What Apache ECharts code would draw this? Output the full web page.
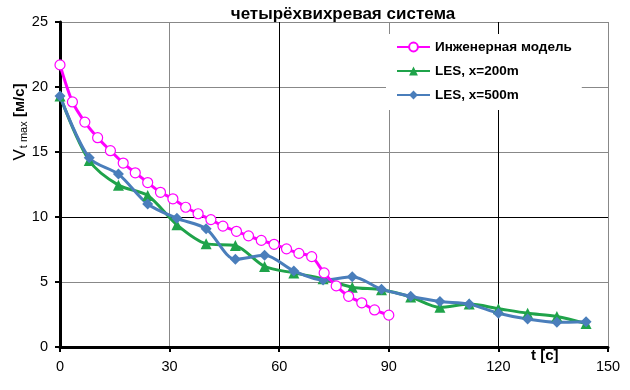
<!DOCTYPE html>
<html>
<head>
<meta charset="utf-8">
<script src="https://cdn.jsdelivr.net/npm/echarts@6/dist/echarts.min.js"></script>
<style>
  html, body { margin: 0; padding: 0; background: #fff; }
  #chart { width: 630px; height: 390px; }
</style>
</head>
<body>
<div id="chart"></div>
<script>
// engineering model, t [c] and Vt max [м/с]
var tModel = [0, 3.4, 6.8, 10.3, 13.8, 17.3, 20.6, 24.0, 27.5, 30.9, 34.4, 37.8, 41.3, 44.6,
  48.3, 51.6, 55.1, 58.6, 62.0, 65.4, 68.9, 72.3, 75.6, 79.0, 82.6, 86.1, 90];
var vModel = [21.7, 18.85, 17.3, 16.1, 15.1, 14.15, 13.4, 12.65, 11.9, 11.4, 10.75, 10.25, 9.8, 9.3,
  8.9, 8.55, 8.2, 7.9, 7.55, 7.2, 6.95, 5.7, 4.7, 3.9, 3.4, 2.85, 2.45];

// LES runs share the same time steps
var tLes = [0, 8, 16, 24, 32, 40, 48, 56, 64, 72, 80, 88, 96, 104, 112, 120, 128, 136, 144];
var v200 = [19.3, 14.35, 12.45, 11.65, 9.4, 7.95, 7.8, 6.2, 5.7, 5.25, 4.6, 4.4, 3.85, 3.05, 3.3, 2.95, 2.6, 2.35, 1.8];
var v500 = [19.3, 14.55, 13.3, 11.0, 9.9, 9.1, 6.75, 7.05, 5.85, 5.15, 5.4, 4.45, 3.9, 3.5, 3.3, 2.6, 2.15, 1.9, 1.95];

var xTicks = [0, 30, 60, 90, 120, 150];
var yTicks = [0, 5, 10, 15, 20, 25];

function pairs(xs, ys) {
  return xs.map(function (x, i) { return [x, ys[i]]; });
}

var chart = echarts.init(document.getElementById("chart"));
var font = "Liberation Sans, Arial, sans-serif";

chart.setOption({
  animation: false,
  textStyle: { fontFamily: font },
  title: {
    text: "четырёхвихревая система",
    left: 338,
    textAlign: "center",
    top: 1,
    textStyle: { fontSize: 17, fontWeight: "bold", color: "#000", fontFamily: font }
  },
  grid: { left: 60, right: 22, top: 22, bottom: 43, containLabel: false },
  legend: {
    orient: "vertical",
    left: 386,
    top: 34,
    padding: [6, 10, 8, 10],
    backgroundColor: "#fff",
    itemWidth: 33,
    itemHeight: 11,
    itemGap: 10,
    textStyle: { fontSize: 13.5, fontWeight: "bold", color: "#000", fontFamily: font }
  },
  xAxis: {
    type: "value",
    min: xTicks[0],
    max: xTicks[xTicks.length - 1],
    interval: 30,
    axisLine: { lineStyle: { color: "#000", width: 3 } },
    axisTick: { length: 5, lineStyle: { color: "#000", width: 2 } },
    axisLabel: { color: "#000", fontSize: 14.5, margin: 12, fontFamily: font },
    splitLine: { lineStyle: { color: ["#000", "#888", "#000", "#888", "#000", "#888"], width: 1 } }
  },
  yAxis: {
    type: "value",
    min: yTicks[0],
    max: yTicks[yTicks.length - 1],
    interval: 5,
    axisLine: { show: true, lineStyle: { color: "#000", width: 3 } },
    axisTick: { show: true, length: 5, lineStyle: { color: "#000", width: 2 } },
    axisLabel: { color: "#000", fontSize: 14.5, margin: 12, fontFamily: font },
    splitLine: { lineStyle: { color: ["#000", "#888", "#000", "#888", "#888", "#888"], width: 1 } }
  },
  graphic: [
    {
      type: "text",
      x: 20,
      y: 122,
      rotation: Math.PI / 2,
      style: {
        text: "{v|V}{s|t max}{u| [м/с]}",
        align: "center",
        verticalAlign: "middle",
        rich: {
          v: { fontSize: 17, fill: "#000", fontFamily: font },
          s: { fontSize: 11, fill: "#000", fontFamily: font, padding: [8, 0, 0, 1] },
          u: { fontSize: 15, fill: "#000", fontFamily: font, fontWeight: "bold" }
        }
      }
    },
    {
      type: "text",
      x: 531,
      y: 348,
      style: { text: "t [c]", fontSize: 15, fill: "#000", fontFamily: font, fontWeight: "bold" }
    }
  ],
  series: [
    {
      name: "Инженерная модель",
      type: "line",
      data: pairs(tModel, vModel),
      smooth: 0.3,
      symbol: "circle",
      symbolSize: 10,
      lineStyle: { color: "#FF00FF", width: 3 },
      itemStyle: { color: "#fff", borderColor: "#FF00FF", borderWidth: 1.2 },
      z: 3
    },
    {
      name: "LES, x=200m",
      type: "line",
      data: pairs(tLes, v200),
      smooth: 0.3,
      symbol: "triangle",
      symbolSize: 11,
      lineStyle: { color: "#1FA34A", width: 3 },
      itemStyle: { color: "#1FA34A" },
      z: 2
    },
    {
      name: "LES, x=500m",
      type: "line",
      data: pairs(tLes, v500),
      smooth: 0.3,
      symbol: "diamond",
      symbolSize: 11,
      lineStyle: { color: "#4A7EBB", width: 3 },
      itemStyle: { color: "#4A7EBB" },
      z: 2
    }
  ]
});
</script>
</body>
</html>
